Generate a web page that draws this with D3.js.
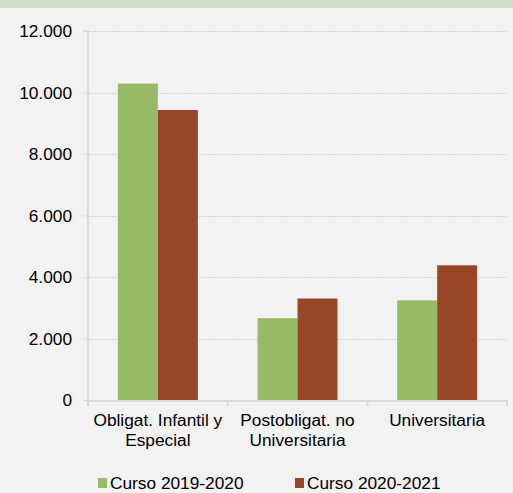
<!DOCTYPE html>
<html><head><meta charset="utf-8">
<script src="https://cdn.jsdelivr.net/npm/d3@7"></script>
<style>body{margin:0;background:#f2f2f2;}svg{display:block;}</style>
</head><body>
<script>
const categories = [["Obligat. Infantil y","Especial"],["Postobligat. no","Universitaria"],["Universitaria"]];
const seriesNames = ["Curso 2019-2020","Curso 2020-2021"];
const values2019 = [10290, 2660, 3240];
const values2020 = [9430, 3300, 4380];
const yTicks = [0,2000,4000,6000,8000,10000,12000];
const colors = ["#97bb64","#974628"];

const W=513,H=493;
const svg=d3.select("body").append("svg").attr("width",W).attr("height",H);
svg.append("rect").attr("width",W).attr("height",H).attr("fill","#f2f2f2");
svg.append("rect").attr("width",W).attr("height",8).attr("fill","#cddfc4");
const font="'Liberation Sans', Arial, sans-serif";
const FS=17.3;
const L=88,R=507,T=31,B=400;
const y=d3.scaleLinear().domain([0,12000]).range([B,T]);
const x=d3.scaleBand().domain(d3.range(categories.length)).range([L,R]).paddingInner(0).paddingOuter(0);
const xs=d3.scaleBand().domain([0,1]).range([0,80]);
const fmt=v=>d3.format(",")(v).replace(/,/g,".");

// gridlines
svg.append("g").selectAll("line").data(yTicks.filter(d=>d>0)).join("line")
 .attr("x1",L).attr("x2",R).attr("y1",d=>Math.round(y(d))+0.5).attr("y2",d=>Math.round(y(d))+0.5)
 .attr("stroke","#d4d4d4").attr("stroke-dasharray","2,1");
// bars
const data=[values2019,values2020];
const g=svg.append("g");
categories.forEach((c,i)=>{
  data.forEach((vals,s)=>{
    const x0=x(i)+(x.bandwidth()-80)/2+xs(s);
    g.append("rect").attr("x",x0).attr("width",xs.bandwidth()).attr("y",y(vals[i])).attr("height",B-y(vals[i]))
     .attr("fill",colors[s]);
  });
});
// y axis
const ya=svg.append("g").attr("transform",`translate(${L},0)`).call(d3.axisLeft(y).tickValues(yTicks).tickFormat(fmt).tickSize(5).tickPadding(11));
ya.select(".domain").attr("stroke","#d9d9d9").attr("stroke-width",2).attr("d",`M-5,${T}H0V${B}`);
ya.selectAll(".tick line").attr("stroke","#d9d9d9").attr("stroke-width",1);
ya.selectAll(".tick text").attr("font-family",font).attr("font-size",FS).attr("fill","#000");
// x axis
svg.append("line").attr("x1",L).attr("x2",R).attr("y1",B+1).attr("y2",B+1).attr("stroke","#d9d9d9").attr("stroke-width",2);
svg.append("g").selectAll("line").data(d3.range(categories.length+1)).join("line")
 .attr("x1",d=>d<categories.length?x(d):R).attr("x2",d=>d<categories.length?x(d):R)
 .attr("y1",B).attr("y2",B+6).attr("stroke","#d9d9d9").attr("stroke-width",2);
categories.forEach((lines,i)=>{
  const t=svg.append("text").attr("font-family",font).attr("font-size",FS).attr("text-anchor","middle").attr("fill","#000");
  lines.forEach((ln,j)=>t.append("tspan").attr("x",x(i)+x.bandwidth()/2).attr("y",426+j*19.5).text(ln));
});
// legend
const lx=[98,295];
seriesNames.forEach((n,s)=>{
  svg.append("rect").attr("x",lx[s]).attr("y",478).attr("width",9).attr("height",10).attr("fill",colors[s]);
  svg.append("text").attr("x",lx[s]+12).attr("y",489).attr("font-family",font).attr("font-size",FS).attr("fill","#000").text(n);
});
</script>
</body></html>
